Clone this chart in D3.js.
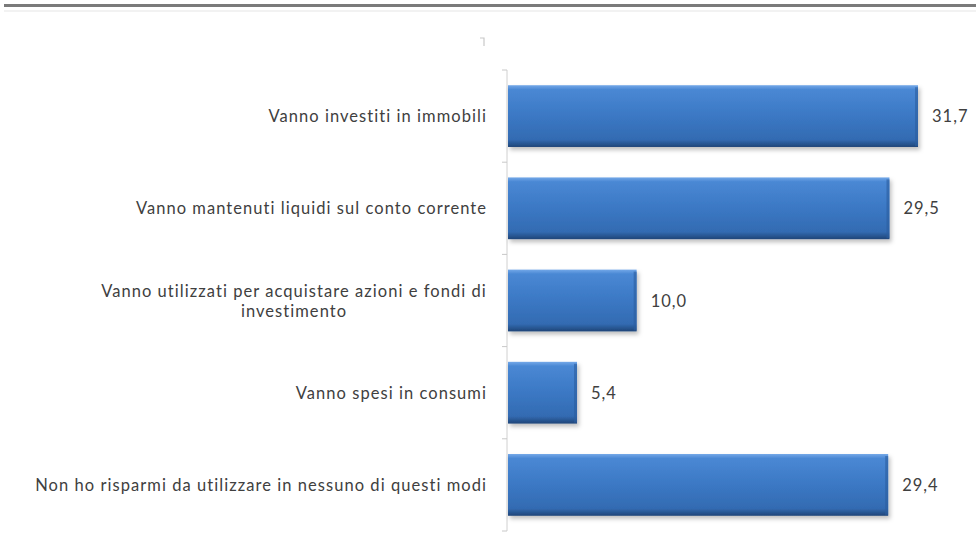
<!DOCTYPE html>
<html>
<head>
<meta charset="utf-8">
<script src="https://cdn.jsdelivr.net/npm/d3@7"></script>
<style>
  body { margin: 0; background: #fff; }
  svg { display: block; }
</style>
</head>
<body>
<script>
// data
const categories = [
    "Vanno investiti in immobili",
    "Vanno mantenuti liquidi sul conto corrente",
    "Vanno utilizzati per acquistare azioni e fondi di investimento",
    "Vanno spesi in consumi",
    "Non ho risparmi da utilizzare in nessuno di questi modi"
];
const values = [31.7, 29.5, 10.0, 5.4, 29.4];
const labelLines = [
    ["Vanno investiti in immobili"],
    ["Vanno mantenuti liquidi sul conto corrente"],
    ["Vanno utilizzati per acquistare azioni e fondi di", "investimento"],
    ["Vanno spesi in consumi"],
    ["Non ho risparmi da utilizzare in nessuno di questi modi"]
];

const W = 976, H = 551;
const svg = d3.select("body").append("svg").attr("width", W).attr("height", H);

// header rule
svg.append("rect").attr("x", 4).attr("y", 4).attr("width", W - 4).attr("height", 3).attr("fill", "#7a7a7a");
svg.append("rect").attr("x", 4).attr("y", 10).attr("width", W - 4).attr("height", 2).attr("fill", "#f2f2f2");

const defs = svg.append("defs");
const grad = defs.append("linearGradient").attr("id", "barGrad")
    .attr("x1", 0).attr("y1", 0).attr("x2", 0).attr("y2", 1);
grad.append("stop").attr("offset", "0%").attr("stop-color", "#74a8e8");
grad.append("stop").attr("offset", "7%").attr("stop-color", "#4a88d4");
grad.append("stop").attr("offset", "50%").attr("stop-color", "#3b78c4");
grad.append("stop").attr("offset", "88%").attr("stop-color", "#336bb2");
grad.append("stop").attr("offset", "100%").attr("stop-color", "#1f4578");

const shadow = defs.append("filter").attr("id", "shadow")
    .attr("x", "-5%").attr("y", "-10%").attr("width", "115%").attr("height", "130%");
shadow.append("feDropShadow").attr("dx", 2).attr("dy", 3).attr("stdDeviation", 2)
    .attr("flood-color", "#000").attr("flood-opacity", 0.25);

const x0 = 507;
const x = d3.scaleLinear().domain([0, 31.7]).range([x0, 918]);
const y = d3.scaleBand().domain(categories).range([70, 531]).paddingInner(0.33).paddingOuter(0.165);

// axis
svg.append("line").attr("x1", x0).attr("x2", x0).attr("y1", 70).attr("y2", 531)
    .attr("stroke", "#d0d0d0").attr("stroke-width", 1);
const step = y.step();
d3.range(categories.length + 1).forEach(i => {
    const ty = 70 + i * step;
    svg.append("line").attr("x1", x0 - 5).attr("x2", x0).attr("y1", ty).attr("y2", ty)
        .attr("stroke", "#c8c8c8");
});

// stray mark from the original
svg.append("path").attr("d", "M480,38 h4 v8").attr("fill", "none").attr("stroke", "#c8c8c8").attr("stroke-width", 1.2);

// bars
svg.selectAll("rect.bar").data(categories).join("rect")
    .attr("class", "bar")
    .attr("x", x0 + 1)
    .attr("y", d => y(d))
    .attr("width", (d, i) => x(values[i]) - x0 - 1)
    .attr("height", y.bandwidth())
    .attr("fill", "url(#barGrad)")
    .attr("filter", "url(#shadow)");

// darker right edge
svg.selectAll("rect.edge").data(categories).join("rect")
    .attr("class", "edge")
    .attr("x", (d, i) => x(values[i]) - 3)
    .attr("y", d => y(d) + 2)
    .attr("width", 3)
    .attr("height", y.bandwidth() - 3)
    .attr("fill", "#2c5e9f").attr("opacity", 0.6);

const FONT = "Lato, 'Open Sans', sans-serif";

// value labels
const fmt = v => v.toFixed(1).replace(".", ",");
svg.selectAll("text.val").data(categories).join("text")
    .attr("class", "val")
    .attr("x", (d, i) => x(values[i]) + 14)
    .attr("y", d => y(d) + y.bandwidth() / 2 + 6)
    .attr("font-family", FONT)
    .attr("font-size", 16.5)
    .attr("letter-spacing", 1)
    .attr("fill", "#404040")
    .text((d, i) => fmt(values[i]));

// category labels
categories.forEach((c, i) => {
    const lines = labelLines[i];
    const cy = y(c) + y.bandwidth() / 2;
    const lh = 20;
    const t = svg.append("text")
        .attr("font-family", FONT)
        .attr("font-size", 16.5)
        .attr("letter-spacing", 1.05)
        .attr("fill", "#404040")
        .attr("text-anchor", lines.length > 1 ? "middle" : "end");
    lines.forEach((ln, j) => {
        t.append("tspan")
            .attr("x", lines.length > 1 ? 294 : 487)
            .attr("y", cy + 6 + (j - (lines.length - 1) / 2) * lh)
            .text(ln);
    });
});
</script>
</body>
</html>
